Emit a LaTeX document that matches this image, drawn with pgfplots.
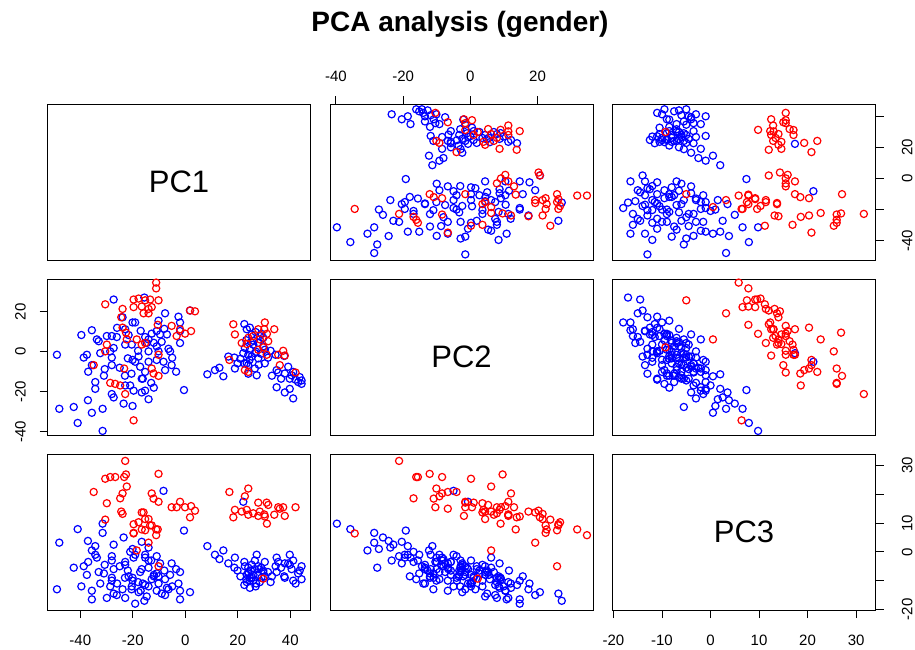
\documentclass[border=0pt]{standalone}
\usepackage{fontspec}
\setmainfont{Liberation Sans}
\usepackage{pgfplots}
\usepackage{pgfplotstable}
\pgfplotsset{compat=1.18}

% red = one gender, blue = the other; columns are the three principal components
\pgfplotstableread{
pc1 pc2 pc3
-11.1 34.7 5.8
-11.1 31.8 7.8
-30.5 23.8 11.2
-19.7 26.2 9.6
-17.8 26.7 10.3
-15.3 25.8 7.5
-13.4 26.2 9.2
-10.2 25.8 -5.0
-19.7 22.4 6.6
-16.6 22.7 7.8
-14.0 21.5 11.4
-12.8 22.4 9.2
-15.9 19.3 13.7
-14.0 19.3 3.2
-23.9 21.5 13.2
-24.4 17.3 14.0
-23.9 12.1 20.3
-22.3 6.2 22.7
-22.6 9.6 26.9
-10.5 13.5 7.8
-5.2 13.0 15.5
-3.3 7.9 15.5
-0.1 9.1 15.5
2.2 10.4 15.9
-2.0 11.3 17.4
1.8 20.7 12.0
3.7 20.3 14.3
-18.5 6.2 0.5
-16.6 3.6 13.7
-15.3 4.4 11.4
-29.9 3.6 16.9
-30.5 0.2 25.4
-34.9 -6.7 20.8
-23.3 -8.4 26.0
-10.2 -1.5 17.4
-12.8 -8.4 20.3
-12.1 -10.9 18.5
-10.2 -12.1 27.1
-28.6 -15.6 26.0
-26.7 -16.1 26.0
-24.8 -16.9 18.6
-22.9 -21.2 31.6
-19.7 -34.4 6.4
18.3 13.8 12.0
18.9 8.7 14.6
21.5 4.4 14.0
23.4 3.9 14.6
25.9 7.9 13.4
27.8 11.3 12.5
30.3 14.7 12.3
30.1 11.3 13.0
33.9 11.3 12.9
24.0 7.0 12.9
28.4 6.2 14.0
31.6 5.3 16.3
29.7 2.2 -9.3
31.0 -1.5 17.1
27.8 1.0 17.1
35.4 -1.5 15.5
37.3 0.5 15.5
37.9 -1.9 12.5
36.0 -6.7 15.0
16.8 -4.1 20.8
22.7 -9.2 19.3
24.0 -10.1 22.0
42.0 -10.4 15.5
31.1 9.0 9.8
}\redpts

\pgfplotstableread{
pc1 pc2 pc3
-48.9 -1.5 -13.0
-48.0 -28.6 3.2
-42.5 -27.7 -5.5
-41.0 -35.7 7.9
-37.1 -24.3 3.8
-35.6 -30.6 0.5
-31.5 -28.6 6.6
-31.5 -39.7 9.8
-39.6 8.4 -12.0
-35.6 10.8 -16.5
-38.7 -2.9 -5.0
-37.5 -1.5 -8.0
-35.6 -6.7 -13.5
-33.7 6.2 -2.0
-33.0 5.3 -7.0
-32.4 -0.7 -11.0
-30.7 -8.7 -4.5
-28.0 -6.7 -10.0
-28.0 -2.9 -3.0
-29.9 7.9 -16.0
-28.0 7.9 -9.0
-26.1 7.4 -15.0
-27.3 1.9 -6.0
-28.6 0.2 -12.0
-27.3 26.2 -14.5
-34.3 -15.2 -1.0
-34.3 -18.6 2.0
-28.0 -21.2 -1.5
-27.3 -22.9 2.5
-23.5 -26.0 5.0
-20.1 -27.2 1.0
-22.9 -16.9 -3.5
-21.0 -16.9 0.0
-19.7 -19.5 -2.0
-16.6 -20.4 3.5
-15.3 -19.5 -1.0
-14.0 -23.8 1.5
-16.6 -13.5 -6.0
-13.0 -15.6 -3.0
-23.9 17.3 -13.0
-22.9 11.3 -16.0
-20.1 14.7 -10.0
-19.1 14.7 -18.0
-21.6 8.4 -8.5
-20.4 3.6 -12.0
-22.9 3.6 -4.5
-20.1 -4.1 -9.0
-19.1 -5.0 -1.0
-17.2 -7.5 -7.0
-15.3 -10.1 -2.0
-16.2 -13.5 -11.0
-17.8 -2.4 -14.0
-21.9 -3.3 -6.5
-15.6 27.2 -17.0
-15.3 7.4 -11.5
-14.0 6.2 -5.5
-14.7 4.4 -15.5
-12.8 9.1 -9.5
-10.9 10.4 -13.5
-10.2 15.6 -8.5
-7.7 19.3 -15.0
-9.6 8.7 -4.0
-7.0 8.7 -12.5
-10.9 2.7 -7.5
-10.2 0.2 -11.0
-14.0 0.2 -3.0
-8.3 -5.0 21.2
-5.8 0.2 -8.0
-6.4 1.5 -13.0
-5.2 -6.7 -4.0
-7.7 -9.2 -9.5
-10.9 -4.1 -1.5
-14.0 -5.0 -12.0
-2.6 17.6 -11.0
-2.0 14.7 -16.5
-2.0 4.4 -7.0
-2.0 10.4 -13.5
1.8 20.7 -14.0
-0.5 -19.2 7.4
-25.0 -8.0 -5.0
-23.0 -12.0 -9.0
-18.0 0.5 -10.5
-12.0 4.5 -8.0
-9.0 5.0 -14.5
-8.0 11.5 -6.5
-17.0 10.5 -13.5
-26.0 12.0 -11.0
-31.0 -12.0 -7.5
-37.0 -10.0 -3.5
-5.0 -3.0 -12.0
-3.5 -10.0 -6.0
-12.0 -18.0 -8.5
-20.5 -11.0 -13.0
8.4 -11.3 2.0
11.3 -9.2 -1.0
13.0 -8.0 -2.5
14.5 -12.3 0.5
16.4 -2.4 -4.0
18.7 -2.9 -5.5
18.9 -8.4 -2.0
19.9 -5.8 -6.5
22.5 -5.8 -3.5
23.4 -5.8 -8.0
22.5 13.9 -11.5
23.4 11.3 -10.5
24.6 12.1 -12.5
25.3 8.7 -9.0
28.4 7.9 -10.5
29.7 7.0 -7.0
22.7 1.9 -5.0
24.6 1.0 -9.0
26.5 -0.7 -6.0
25.3 -2.4 -4.5
27.8 -3.3 -8.0
29.7 2.7 -6.5
30.3 -5.8 -3.5
24.0 -6.7 -5.5
26.5 -8.4 -3.0
27.2 -11.8 -1.0
24.0 -11.0 -7.5
25.9 3.6 -10.0
27.8 4.4 -5.0
30.3 1.0 -8.5
24.0 -1.5 -7.0
22.1 -0.7 17.4
34.4 -1.5 -5.0
37.7 -2.1 -8.5
39.2 -7.5 -4.0
34.8 -9.2 -7.0
35.4 -10.4 -3.5
37.9 -10.9 -9.0
40.5 -11.8 -6.0
41.1 -10.1 -10.0
39.8 -13.5 -4.5
43.0 -15.2 -7.5
44.3 -14.4 -5.0
44.3 -16.1 -9.5
43.6 -12.7 -6.5
34.8 -17.8 -2.0
37.9 -20.4 -4.0
39.8 -18.6 -1.0
41.1 -23.4 -3.0
26.0 5.5 -8.0
27.0 0.0 -11.0
28.9 -1.0 -5.5
25.0 4.9 -6.5
23.2 5.8 -9.5
26.8 9.9 -12.0
29.0 9.0 -9.0
31.5 -3.0 -7.0
32.5 0.5 -10.5
21.0 -3.5 -8.5
24.5 -4.0 -10.0
28.0 -6.5 -6.0
33.0 -12.0 -8.5
36.5 -13.5 -5.5
42.0 -14.0 -11.0
}\bluepts

\pgfplotsset{
  panel/.style={scale only axis, width=263pt, height=156pt, anchor=south west,
    xtick=\empty, ytick=\empty, tick align=outside, major tick length=8pt,
    axis line style={black, line width=0.9pt}, tick style={black, line width=0.9pt},
    tick label style={font=\fontsize{15}{18}\selectfont, inner sep=0pt}},
  xA/.style={xmin=-52.5, xmax=47.7}, yA/.style={ymin=-52.5, ymax=47.7},
  xB/.style={xmin=-41.75, xmax=36.5}, yB/.style={ymin=-41.75, ymax=36.5},
  xC/.style={xmin=-20.2, xmax=34.0}, yC/.style={ymin=-20.2, ymax=34.0},
  bottomticks/.style={xtick pos=left, xticklabel pos=left, xticklabel style={yshift=-16.6pt}},
  topticks/.style={xtick pos=right, xticklabel pos=right, xticklabel style={yshift=14.6pt}},
  leftticks/.style={ytick pos=left, yticklabel pos=left, yticklabel style={xshift=-13.6pt, rotate=90, anchor=south}},
  rightticks/.style={ytick pos=right, yticklabel pos=right, yticklabel style={xshift=18.1pt, rotate=90, anchor=north}},
  bl/.style={only marks, mark=o, mark size=3.6pt, line width=1.2pt, color=blue},
  rd/.style={only marks, mark=o, mark size=3.6pt, line width=1.2pt, color=red},
}

\newcommand{\diaglabel}[1]{\node[font=\fontsize{31}{36}\selectfont] at (rel axis cs:0.5,0.5) {#1};}

\begin{document}
\begin{tikzpicture}
\useasboundingbox (0,0) rectangle (915pt,649pt);
\node[font=\fontsize{28}{34}\selectfont\bfseries, anchor=base] at (460pt,617pt) {PCA analysis (gender)};

% row 1
\begin{axis}[panel, xA, yA, at={(47.5pt,389pt)}]
\diaglabel{PC1}
\end{axis}
\begin{axis}[panel, xB, yA, at={(330pt,389pt)}, topticks,
  xtick={-40,-20,0,20}, xticklabels={-40,-20,0,20}]
\addplot[bl] table[x=pc2, y=pc1] {\bluepts};
\addplot[rd] table[x=pc2, y=pc1] {\redpts};
\end{axis}
\begin{axis}[panel, xC, yA, at={(612.5pt,389pt)}, rightticks,
  ytick={-40,-20,0,20,40}, yticklabels={-40,,0,20,}]
\addplot[bl] table[x=pc3, y=pc1] {\bluepts};
\addplot[rd] table[x=pc3, y=pc1] {\redpts};
\end{axis}

% row 2
\begin{axis}[panel, xA, yB, at={(47.5pt,214pt)}, leftticks,
  ytick={-40,-20,0,20}, yticklabels={-40,-20,0,20}]
\addplot[bl] table[x=pc1, y=pc2] {\bluepts};
\addplot[rd] table[x=pc1, y=pc2] {\redpts};
\end{axis}
\begin{axis}[panel, xB, yB, at={(330pt,214pt)}]
\diaglabel{PC2}
\end{axis}
\begin{axis}[panel, xC, yB, at={(612.5pt,214pt)}]
\addplot[bl] table[x=pc3, y=pc2] {\bluepts};
\addplot[rd] table[x=pc3, y=pc2] {\redpts};
\end{axis}

% row 3
\begin{axis}[panel, xA, yC, at={(47.5pt,39pt)}, bottomticks,
  xtick={-40,-20,0,20,40}, xticklabels={-40,-20,0,20,40}]
\addplot[bl] table[x=pc1, y=pc3] {\bluepts};
\addplot[rd] table[x=pc1, y=pc3] {\redpts};
\end{axis}
\begin{axis}[panel, xB, yC, at={(330pt,39pt)}]
\addplot[bl] table[x=pc2, y=pc3] {\bluepts};
\addplot[rd] table[x=pc2, y=pc3] {\redpts};
\end{axis}
\begin{axis}[panel, xC, yC, at={(612.5pt,39pt)}, bottomticks, rightticks,
  xtick={-20,-10,0,10,20,30}, xticklabels={-20,-10,0,10,20,30},
  ytick={-20,-10,0,10,20,30}, yticklabels={-20,,0,10,,30}]
\diaglabel{PC3}
\end{axis}
\end{tikzpicture}
\end{document}
